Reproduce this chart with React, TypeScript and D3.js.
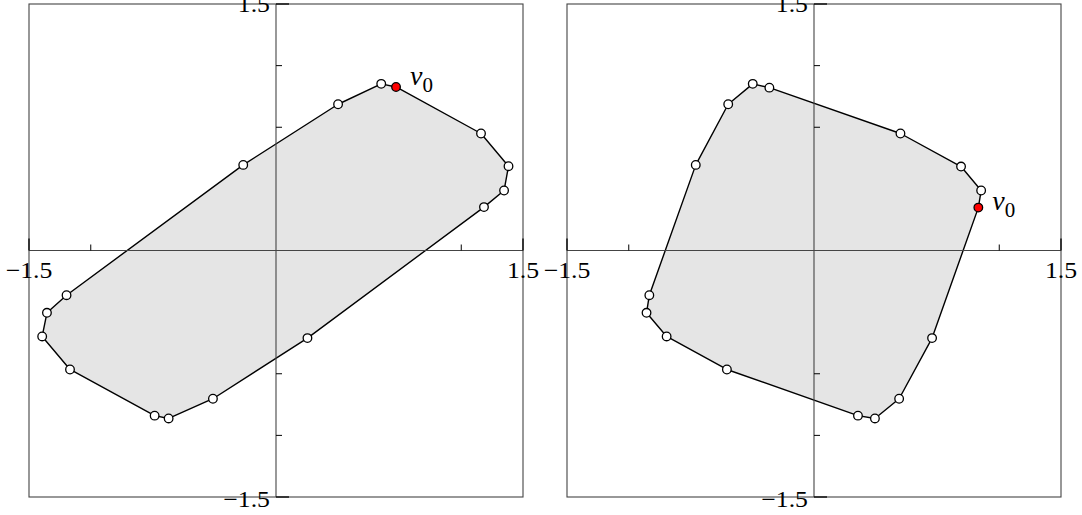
import React from 'react';
import * as d3 from 'd3';

const axisDomain: [number, number] = [-1.5, 1.5];
const xMinorTicks = [-1.125, 1.125];
const yMinorTicks = [-1.125, -0.75, 0.75, 1.125];
const endTicks = [-1.5, 1.5];
const endTickLabels = ['\u22121.5', '1.5'];

// left panel polygon (v0 first)
const leftXs = [0.729, 1.245, 1.412, 1.385, 1.263, 0.191, -0.383, -0.652, -0.737, -1.251, -1.42, -1.391, -1.272, -0.199, 0.377, 0.639];
const leftYs = [0.995, 0.712, 0.513, 0.365, 0.264, -0.533, -0.902, -1.022, -1.005, -0.724, -0.523, -0.379, -0.272, 0.521, 0.89, 1.014];

// right panel polygon (v0 first)
const rightXs = [0.998, 0.717, 0.517, 0.37, 0.267, -0.529, -0.895, -1.017, -1.0, -0.718, -0.521, -0.372, -0.271, 0.525, 0.893, 1.015];
const rightYs = [0.261, -0.533, -0.902, -1.022, -1.005, -0.724, -0.523, -0.379, -0.272, 0.521, 0.89, 1.014, 0.991, 0.712, 0.511, 0.365];

const FONT = "'Liberation Serif', 'Times New Roman', serif";
const SX = 1.12;

function Label({ x, y, anchor, children }: { x: number; y: number; anchor: string; children: any }) {
  return (
    <text
      transform={`translate(${x},${y}) scale(${SX},1)`}
      textAnchor={anchor}
      fontFamily={FONT}
      fontSize={23}
      fill="black"
    >
      {children}
    </text>
  );
}

function Panel({ x0, xs, ys, labelDx, labelDy }: { x0: number; xs: number[]; ys: number[]; labelDx: number; labelDy: number }) {
  const W = 494;
  const top = 4;
  const bottom = 497;
  const x = d3.scaleLinear().domain(axisDomain).range([x0, x0 + W]);
  const y = d3.scaleLinear().domain(axisDomain).range([bottom, top]);
  const pts: [number, number][] = xs.map((v, i) => [v, ys[i]]);
  const line = d3
    .line<[number, number]>()
    .x((d) => x(d[0]))
    .y((d) => y(d[1]))
    .curve(d3.curveLinearClosed);
  const ax = x(0);
  const ay = y(0);
  const frameColor = '#444';
  return (
    <g>
      <rect x={x0} y={top} width={W} height={bottom - top} fill="white" stroke={frameColor} strokeWidth={1.1} />
      <path d={line(pts) || ''} fill="#e5e5e5" stroke="black" strokeWidth={1.4} strokeLinejoin="round" />
      <line x1={x0} x2={x0 + W} y1={ay} y2={ay} stroke={frameColor} strokeWidth={1.1} />
      <line x1={ax} x2={ax} y1={top} y2={bottom} stroke={frameColor} strokeWidth={1.1} />
      {xMinorTicks.map((t) => (
        <line key={'xt' + t} x1={x(t)} x2={x(t)} y1={ay} y2={ay - 6} stroke="black" strokeWidth={1} />
      ))}
      {endTicks.map((t) => (
        <line key={'xe' + t} x1={x(t)} x2={x(t)} y1={ay} y2={ay - 12} stroke="black" strokeWidth={1.3} />
      ))}
      {yMinorTicks.map((t) => (
        <line key={'yt' + t} x1={ax} x2={ax + 6} y1={y(t)} y2={y(t)} stroke="black" strokeWidth={1} />
      ))}
      {endTicks.map((t) => (
        <line key={'ye' + t} x1={ax} x2={ax + 13} y1={y(t)} y2={y(t)} stroke="black" strokeWidth={1.3} />
      ))}
      {endTicks.map((t, i) => (
        <Label key={'xl' + t} x={x(t)} y={ay + 27} anchor="middle">
          {endTickLabels[i]}
        </Label>
      ))}
      {endTicks.map((t, i) => (
        <Label key={'yl' + t} x={ax - 6} y={y(t) + (t > 0 ? 8 : 10)} anchor="end">
          {endTickLabels[i]}
        </Label>
      ))}
      {pts.map((p, i) => (
        <circle
          key={'p' + i}
          cx={x(p[0])}
          cy={y(p[1])}
          r={4.3}
          fill={i === 0 ? '#ff0000' : 'white'}
          stroke="black"
          strokeWidth={1.3}
        />
      ))}
      <text x={x(pts[0][0]) + labelDx} y={y(pts[0][1]) + labelDy} fontFamily={FONT} fill="black">
        <tspan fontStyle="italic" fontSize={28}>v</tspan>
        <tspan fontSize={21} dy={7}>0</tspan>
      </text>
    </g>
  );
}

export default function App() {
  return (
    <svg
      width={1082}
      height={515}
      style={{ position: 'absolute', left: 0, top: 0, background: 'white' }}
    >
      <Panel x0={29} xs={leftXs} ys={leftYs} labelDx={14} labelDy={-2} />
      <Panel x0={567} xs={rightXs} ys={rightYs} labelDx={14} labelDy={2} />
    </svg>
  );
}
